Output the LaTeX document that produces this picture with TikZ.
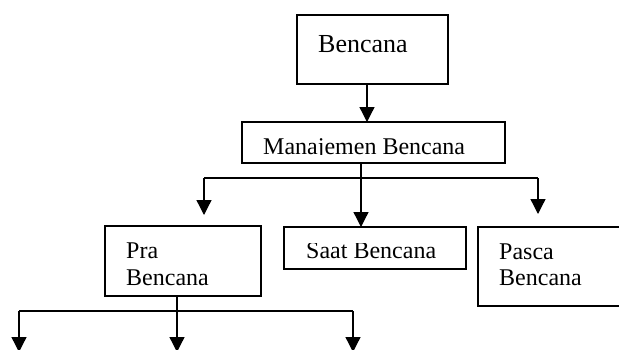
\documentclass[tikz,border=0pt]{standalone}
\usepackage{fontspec}
\setmainfont{Liberation Serif}
\usetikzlibrary{arrows.meta}
\begin{document}
\begin{tikzpicture}[x=1pt,y=-1pt,
  box/.style={draw, line width=1.4pt, rectangle, inner sep=0pt, outer sep=0pt, anchor=north west},
  boxtext/.style={anchor=base west, inner sep=0pt, font=\fontsize{24}{27}\selectfont},
  link/.style={line width=1.3pt},
  arr/.style={link, -{Triangle[width=15pt,length=15pt]}}]
\useasboundingbox (0,0) rectangle (619,349);
\clip (0,0) rectangle (619,349);

% boxes
\node[box, minimum width=151pt, minimum height=69pt] (bencana) at (297,15) {};
\node[box, minimum width=263pt, minimum height=41pt] (manaj) at (242,122) {};
\node[box, minimum width=156pt, minimum height=70pt] (pra) at (105,226) {};
\node[box, minimum width=182pt, minimum height=42pt] (saat) at (284,227) {};
\node[box, minimum width=147pt, minimum height=79pt] (pasca) at (478,227) {};

% texts
\node[boxtext, font=\fontsize{26}{30}\selectfont] (tbencana) at (318,52) {Bencana};
\begin{scope}
  \clip (242,122) rectangle (505,154.5);
  \node[boxtext] (tmanaj) at (263,154) {Manajemen Bencana};
\end{scope}
\begin{scope}
  \clip (284,243) rectangle (466,258.5);
  \node[boxtext] (tsaat) at (306,258) {Saat Bencana};
\end{scope}
\node[boxtext] (tpra1) at (126,258) {Pra};
\node[boxtext] (tpra2) at (126,285) {Bencana};
\node[boxtext] (tpasca1) at (499,259) {Pasca};
\node[boxtext] (tpasca2) at (499,285) {Bencana};

% connector positions
\coordinate (c1) at (367,0);
\coordinate (c2) at (361,178);
\coordinate (hl) at (204,178);
\coordinate (hr) at (538,178);
\coordinate (tl) at (204,215);
\coordinate (tr) at (538,214);
\coordinate (bl) at (19,311);
\coordinate (bm) at (177,311);
\coordinate (br) at (353,311);
\coordinate (el) at (19,352);
\coordinate (em) at (177,352);
\coordinate (er) at (353,352);

% connectors
\draw[arr] (bencana.south -| c1) -- (manaj.north -| c1);
\draw[arr] (manaj.south -| c2) -- (saat.north -| c2);
\draw[link] (hl) -- (hr);
\draw[arr] (hl) -- (tl);
\draw[arr] (hr) -- (tr);
\draw[link] (pra.south -| bm) -- (bm);
\draw[link] (bl) -- (br);
\draw[arr] (bl) -- (el);
\draw[arr] (bm) -- (em);
\draw[arr] (br) -- (er);
\end{tikzpicture}
\end{document}
